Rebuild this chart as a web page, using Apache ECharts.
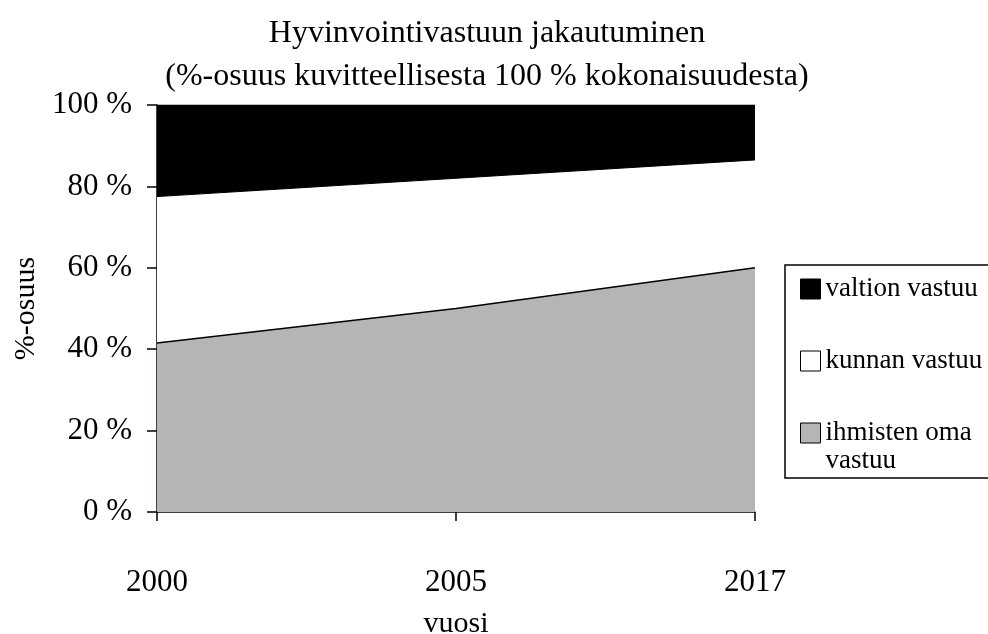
<!DOCTYPE html>
<html lang="fi">
<head>
    <meta charset="UTF-8">
    <script src="https://cdn.jsdelivr.net/npm/echarts@6/dist/echarts.min.js"></script>
    <style>
        html, body { margin: 0; padding: 0; background: #fff; }
    </style>
</head>
<body>
<div style="width: 988px;height: 634px" id="chart"></div>

<script>
    // vuodet ja osuudet (%) luettu kuvasta
    var years = ['2000', '2005', '2017']
    var omaVastuu = [41.5, 50, 60]
    var kunnanVastuu = [36, 32, 26.5]
    var valtionVastuu = [22.5, 18, 13.5]
    var yTicks = [0, 20, 40, 60, 80, 100]

    var serif = 'Liberation Serif'
    var myChart = echarts.init(document.getElementById('chart'))

    var option = {
        animation: false,
        title: {
            text: 'Hyvinvointivastuun jakautuminen\n(%-osuus kuvitteellisesta 100 % kokonaisuudesta)',
            left: 487,
            top: 12,
            padding: 0,
            textAlign: 'center',
            textStyle: {
                fontFamily: serif,
                fontSize: 32,
                fontWeight: 'normal',
                color: '#000',
                lineHeight: 43
            }
        },
        legend: [
            {
                orient: 'vertical',
                left: 785,
                top: 265,
                padding: [10, 60, 103, 15],
                borderColor: '#000',
                borderWidth: 1.5,
                itemWidth: 20,
                itemHeight: 20,
                itemGap: 44,
                icon: 'rect',
                itemStyle: { borderColor: '#000', borderWidth: 1 },
                textStyle: { fontFamily: serif, fontSize: 27, color: '#000', lineHeight: 28 },
                data: ['valtion vastuu', 'kunnan vastuu']
            },
            {
                orient: 'vertical',
                left: 800,
                top: 391,
                padding: 0,
                itemWidth: 20,
                itemHeight: 20,
                icon: 'rect',
                itemStyle: { borderColor: '#000', borderWidth: 1 },
                formatter: function () { return '\nihmisten oma\nvastuu' },
                textStyle: { fontFamily: serif, fontSize: 27, color: '#000', lineHeight: 28 },
                data: ['ihmisten oma vastuu']
            }
        ],
        grid: {
            left: 157,
            right: 233,
            top: 105,
            bottom: 122,
            outerBoundsMode: 'none'
        },
        xAxis: {
            type: 'category',
            data: years,
            boundaryGap: false,
            name: 'vuosi',
            nameLocation: 'middle',
            nameGap: 97,
            nameTextStyle: { fontFamily: serif, fontSize: 30, color: '#000' },
            axisLine: { lineStyle: { color: '#000', width: 1.5 } },
            axisTick: { show: true, alignWithLabel: true, length: 9, lineStyle: { color: '#000', width: 1.5 } },
            axisLabel: { fontFamily: serif, fontSize: 31, color: '#000', margin: 55 },
            splitLine: { show: false }
        },
        yAxis: {
            type: 'value',
            min: 0,
            max: 100,
            interval: 20,
            name: '%-osuus',
            nameLocation: 'middle',
            nameGap: 110,
            nameTextStyle: { fontFamily: serif, fontSize: 30, color: '#000' },
            axisLine: { show: true, lineStyle: { color: '#000', width: 1.5 } },
            axisTick: { show: true, length: 10, lineStyle: { color: '#000', width: 1.5 } },
            axisLabel: {
                fontFamily: serif,
                fontSize: 31,
                color: '#000',
                margin: 25,
                padding: [5, 0, 0, 0],
                formatter: function (v) { return yTicks.indexOf(v) >= 0 ? v + ' %' : '' }
            },
            splitLine: { show: false }
        },
        series: [
            {
                name: 'ihmisten oma vastuu',
                type: 'line',
                stack: 'total',
                symbol: 'none',
                color: '#b3b5b6',
                itemStyle: { color: '#b3b5b6' },
                lineStyle: { color: '#000', width: 1.5 },
                areaStyle: { color: '#b3b5b6', opacity: 1 },
                data: omaVastuu
            },
            {
                name: 'kunnan vastuu',
                type: 'line',
                stack: 'total',
                symbol: 'none',
                color: '#ffffff',
                itemStyle: { color: '#ffffff' },
                lineStyle: { color: '#000', width: 1 },
                areaStyle: { color: '#ffffff', opacity: 1 },
                data: kunnanVastuu
            },
            {
                name: 'valtion vastuu',
                type: 'line',
                stack: 'total',
                symbol: 'none',
                color: '#000000',
                itemStyle: { color: '#000000' },
                lineStyle: { color: '#000', width: 1 },
                areaStyle: { color: '#000000', opacity: 1 },
                data: valtionVastuu
            }
        ]
    }

    option && myChart.setOption(option)
</script>
</body>
</html>
